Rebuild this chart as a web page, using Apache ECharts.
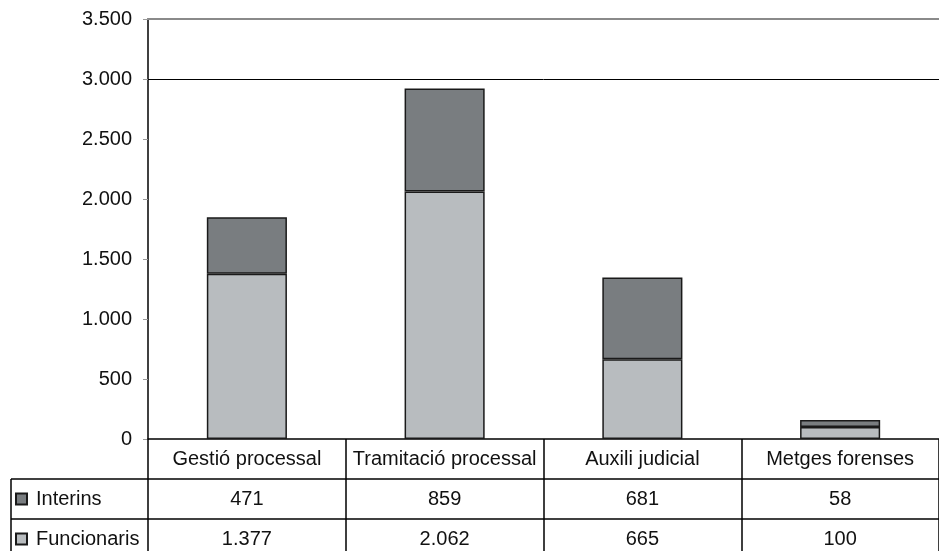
<!DOCTYPE html>
<html>
<head>
<meta charset="utf-8">
<script src="https://cdn.jsdelivr.net/npm/echarts@6/dist/echarts.min.js"></script>
<style>
  html, body { margin: 0; padding: 0; background: #fff; }
  #chart { width: 939px; height: 551px; }
</style>
</head>
<body>
<div id="chart"></div>
<script>
// dades
const categories = ['Gestió processal', 'Tramitació processal', 'Auxili judicial', 'Metges forenses'];
const interins = [471, 859, 681, 58];
const funcionaris = [1377, 2062, 665, 100];
const yTicks = { min: 0, max: 3500, interval: 500 };

// layout
const FONT = '"Liberation Sans", Arial, sans-serif';
const FS = 20;
const GRID = { left: 148, right: 0, top: 19, bottom: 112 };
const ROW = 40;
const W = 939, H = 551;

// punt com a separador de milers
function fmt(v) {
    return String(v).replace(/\B(?=(\d{3})+(?!\d))/g, '.');
}

const axisY = H - GRID.bottom;
const chart = echarts.init(document.getElementById('chart'));

chart.setOption({
    animation: false,
    textStyle: { fontFamily: FONT },
    grid: GRID,
    legend: {
        orient: 'vertical',
        left: 15,
        top: axisY + ROW + 10,
        padding: 0,
        itemGap: 20,
        itemWidth: 11,
        itemHeight: 11,
        icon: 'rect',
        data: ['Interins', 'Funcionaris'],
        textStyle: { fontSize: FS, lineHeight: 20, color: '#111', padding: [0, 0, 0, 4] }
    },
    xAxis: [{
        type: 'category',
        data: categories,
        axisLine: { lineStyle: { color: '#000', width: 1.5 } },
        axisTick: { show: true, interval: 0, length: H - axisY, lineStyle: { color: '#000', width: 1.5 } },
        axisLabel: {
            interval: 0,
            margin: 0,
            color: '#111',
            formatter: (v, i) => `{h|${v}}\n{v|${fmt(interins[i])}}\n{v|${fmt(funcionaris[i])}}`,
            rich: {
                h: { fontSize: FS, lineHeight: ROW, fontFamily: FONT, color: '#111' },
                v: { fontSize: FS, lineHeight: ROW, fontFamily: FONT, color: '#111' }
            }
        }
    }, {
        type: 'category',
        position: 'top',
        data: categories,
        axisLine: { lineStyle: { color: '#8a8a8a', width: 2 } },
        axisTick: { show: false },
        axisLabel: { show: false }
    }],
    yAxis: {
        type: 'value',
        min: yTicks.min,
        max: yTicks.max,
        interval: yTicks.interval,
        axisLine: { show: true, lineStyle: { color: '#000', width: 1.5 } },
        axisTick: { show: true, length: 5, lineStyle: { color: '#999' } },
        axisLabel: { margin: 16, fontSize: FS, color: '#111', formatter: v => fmt(v) },
        splitLine: {
            show: true,
            lineStyle: {
                width: 1,
                color: ['transparent', 'transparent', 'transparent', 'transparent',
                        'transparent', 'transparent', '#000', 'transparent']
            }
        }
    },
    series: [{
        name: 'Funcionaris',
        type: 'bar',
        stack: 'total',
        barWidth: '40.5%',
        data: funcionaris,
        itemStyle: { color: '#b8bcbf', borderColor: '#1a1a1a', borderWidth: 1.5 }
    }, {
        name: 'Interins',
        type: 'bar',
        stack: 'total',
        barWidth: '40.5%',
        data: interins,
        itemStyle: { color: '#797d80', borderColor: '#1a1a1a', borderWidth: 1.5 }
    }],
    graphic: [
        // línies horitzontals de la taula
        { type: 'line', shape: { x1: 11, y1: axisY + ROW, x2: W, y2: axisY + ROW }, style: { stroke: '#000', lineWidth: 1.5 } },
        { type: 'line', shape: { x1: 11, y1: axisY + 2 * ROW, x2: W, y2: axisY + 2 * ROW }, style: { stroke: '#000', lineWidth: 1.5 } },
        { type: 'line', shape: { x1: 11, y1: axisY + ROW, x2: 11, y2: H }, style: { stroke: '#000', lineWidth: 1.5 } }
    ]
});
</script>
</body>
</html>
